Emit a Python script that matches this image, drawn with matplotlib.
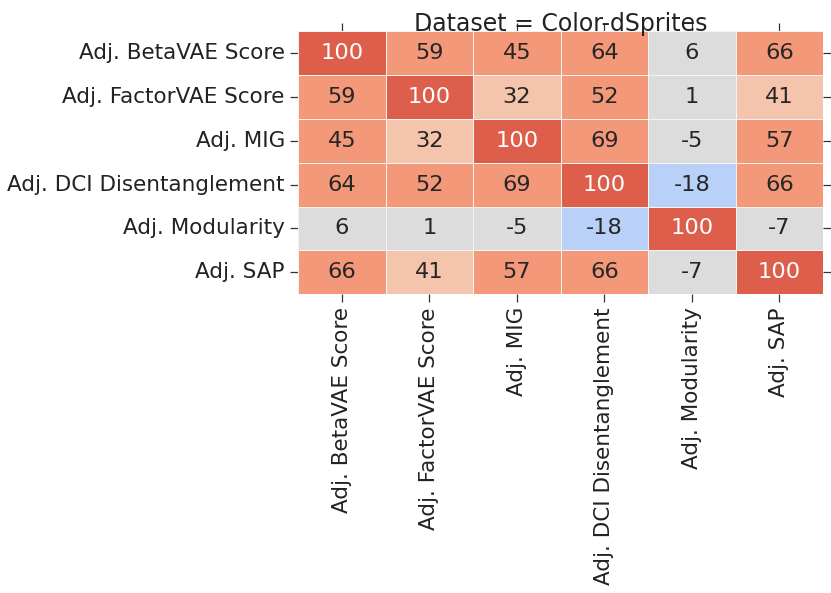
import matplotlib
matplotlib.use("Agg")
import matplotlib.pyplot as plt
import numpy as np
import seaborn as sns

metrics = [
    "Adj. BetaVAE Score",
    "Adj. FactorVAE Score",
    "Adj. MIG",
    "Adj. DCI Disentanglement",
    "Adj. Modularity",
    "Adj. SAP",
]
corr = np.array([
    [100, 59, 45, 64, 6, 66],
    [59, 100, 32, 52, 1, 41],
    [45, 32, 100, 69, -5, 57],
    [64, 52, 69, 100, -18, 66],
    [6, 1, -5, -18, 100, -7],
    [66, 41, 57, 66, -7, 100],
])
dataset = "Color-dSprites"

sns.set_style("ticks")
fig = plt.figure(figsize=(8.31, 5.93), dpi=100)
ax = fig.add_axes([0.3586, 0.5042, 0.6318, 0.4427])

sns.heatmap(corr, ax=ax, vmin=-100, vmax=100,
            cmap=sns.color_palette("coolwarm", 7),
            annot=True, fmt="d", annot_kws={"fontsize": 16.2},
            linewidths=0.6, linecolor="#f4f4f4", cbar=False,
            xticklabels=metrics, yticklabels=metrics)

ax.tick_params(top=True, right=True, length=6, width=0.9, color="#333333")
ax.set_xticklabels(metrics, rotation=90, fontsize=15.5, color="#222222")
ax.set_yticklabels(metrics, rotation=0, fontsize=15.5, color="#222222")
ax.set_title(f"Dataset = {dataset}", fontsize=17, color="#222222", pad=0)

fig.savefig("out.png", dpi=100)
